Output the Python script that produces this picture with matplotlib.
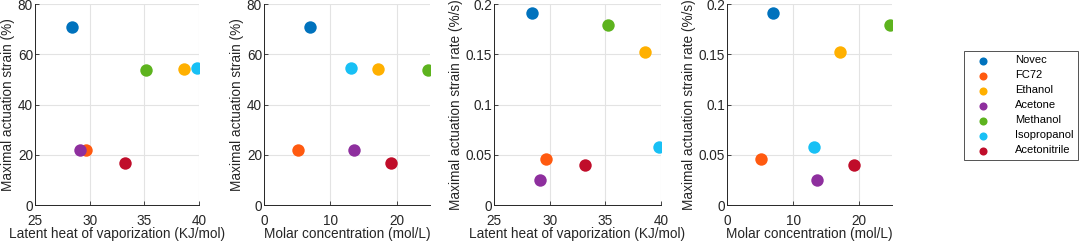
import numpy as np
import matplotlib
matplotlib.use('Agg')
import matplotlib.pyplot as plt

plt.rcParams['font.family'] = ['Liberation Sans', 'DejaVu Sans']

# data
solvents = ['Novec', 'FC72', 'Ethanol', 'Acetone', 'Methanol', 'Isopropanol', 'Acetonitrile']
colors = ['#0072BD', '#FF5A10', '#FFB000', '#8E2F9E', '#5DB31E', '#18C0F5', '#C00D2A']
latent_heat = [28.4, 29.7, 38.6, 29.1, 35.2, 39.8, 33.2]
molar_conc = [7.0, 5.1, 17.1, 13.6, 24.7, 13.1, 19.2]
strain = [71.0, 21.9, 54.0, 21.9, 53.8, 54.4, 16.6]
strain_rate = [0.191, 0.0455, 0.152, 0.0245, 0.179, 0.058, 0.0398]

fig = plt.figure(figsize=(10.79, 2.43), dpi=100)

bottom = 0.156
height = 0.827
panels = [
    (0.0324, 0.152, latent_heat, strain, (25, 40), [25, 30, 35, 40], (0, 80), [0, 20, 40, 60, 80],
     'Latent heat of vaporization (KJ/mol)', 'Maximal actuation strain (%)'),
    (0.2447, 0.1538, molar_conc, strain, (0, 25), [0, 10, 20], (0, 80), [0, 20, 40, 60, 80],
     'Molar concentration (mol/L)', 'Maximal actuation strain (%)'),
    (0.4578, 0.1548, latent_heat, strain_rate, (25, 40), [25, 30, 35, 40], (0, 0.2), [0, 0.05, 0.1, 0.15, 0.2],
     'Latent heat of vaporization (KJ/mol)', 'Maximal actuation strain rate (%/s)'),
    (0.6738, 0.153, molar_conc, strain_rate, (0, 25), [0, 10, 20], (0, 0.2), [0, 0.05, 0.1, 0.15, 0.2],
     'Molar concentration (mol/L)', 'Maximal actuation strain rate (%/s)'),
]

for left, width, xs, ys, xlim, xticks, ylim, yticks, xlabel, ylabel in panels:
    ax = fig.add_axes([left, bottom, width, height])
    for i in range(len(solvents)):
        ax.scatter(xs[i], ys[i], s=80, color=colors[i], label=solvents[i], zorder=3, linewidths=0)
    ax.set_xlim(xlim)
    ax.set_ylim(ylim)
    ax.set_xticks(xticks)
    ax.set_yticks(yticks)
    ax.set_yticklabels([('%g' % t) for t in yticks])
    ax.grid(True, color='#e3e3e3', linewidth=0.8)
    ax.set_axisbelow(True)
    for s in ['top', 'right']:
        ax.spines[s].set_visible(False)
    for s in ['left', 'bottom']:
        ax.spines[s].set_color('#262626')
        ax.spines[s].set_linewidth(0.7)
    ax.tick_params(direction='in', length=3, width=0.6, colors='#262626', labelsize=9.8)
    ax.tick_params(axis='x', pad=6.5)
    ax.tick_params(axis='y', pad=1.5)
    ax.set_xlabel(xlabel, fontsize=9.8, color='#262626', labelpad=-1)
    ax.set_ylabel(ylabel, fontsize=9.8, color='#262626', labelpad=2)

handles, labels = ax.get_legend_handles_labels()
leg = fig.legend(handles, labels, loc='upper right', bbox_to_anchor=(0.999, 0.79),
                 fontsize=8, frameon=True, fancybox=False, edgecolor='#262626',
                 markerscale=0.65, handlelength=2.6, handletextpad=1.6, labelspacing=0.45,
                 borderpad=0.4, borderaxespad=0)
leg.get_frame().set_linewidth(0.7)

fig.savefig('out.png', dpi=100)
